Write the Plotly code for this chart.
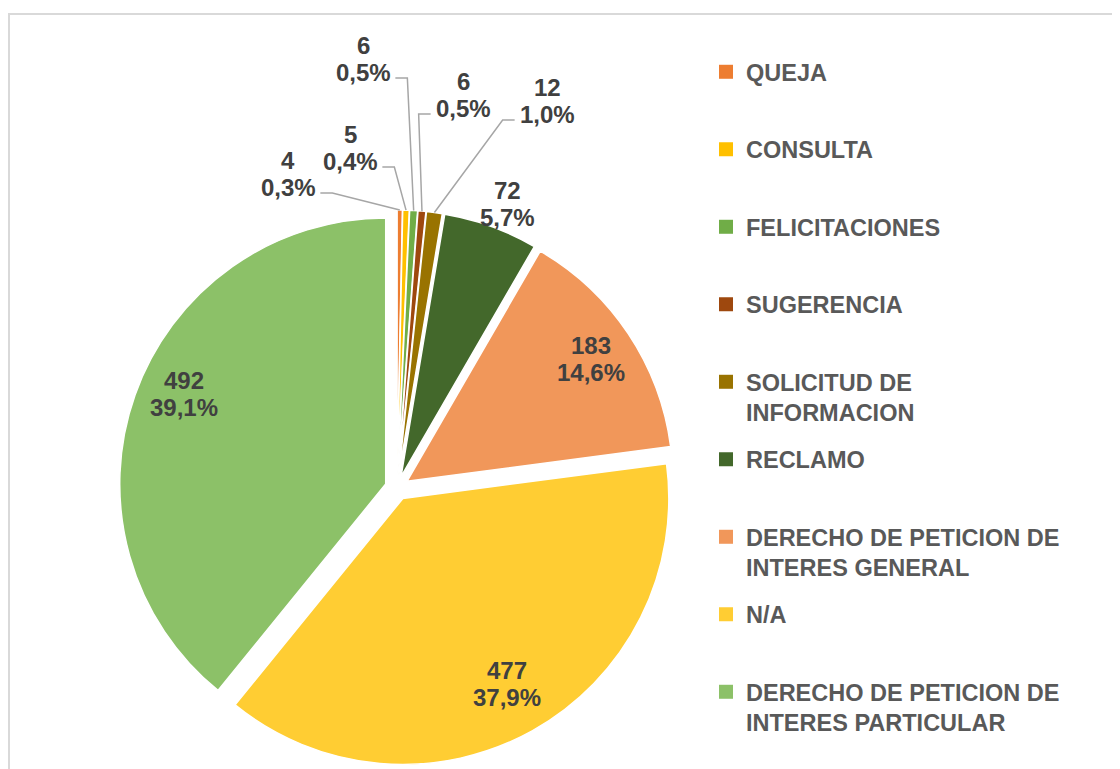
import math

import plotly.graph_objects as go

# ============================================================================ #
# Data

categories = [
    "QUEJA", "CONSULTA", "FELICITACIONES", "SUGERENCIA",
    "SOLICITUD DE INFORMACION", "RECLAMO",
    "DERECHO DE PETICION DE INTERES GENERAL", "N/A",
    "DERECHO DE PETICION DE INTERES PARTICULAR",
]
legend_names = [
    "QUEJA", "CONSULTA", "FELICITACIONES", "SUGERENCIA",
    "SOLICITUD DE<br>INFORMACION", "RECLAMO",
    "DERECHO DE PETICION DE<br>INTERES GENERAL", "N/A",
    "DERECHO DE PETICION DE<br>INTERES PARTICULAR",
]
counts = [4, 5, 6, 6, 12, 72, 183, 477, 492]
colors = [
    "#ED7D31", "#FFC000", "#70AD47", "#9E480E", "#997300",
    "#43682B", "#F1975A", "#FFCD33", "#8CC168",
]

# ============================================================================ #
# Layout constants (pixels, measured in the browser window)

W, H = 1120, 769
OFF = 8  # page body margin
CX, CY, R = 397, 488, 266  # pie centre and radius
PULL = 0.045
FONT = "Liberation Sans, Arial, sans-serif"
LABEL_SIZE = 24
LABEL_LINE = 27  # distance between the two lines of a data label
LABEL_COLOR = "#404040"

# small slices: label centre and which side the leader line leaves from
SMALL_LABELS = {
    0: ((288, 174), "right"),
    1: ((350, 148), "right"),
    2: ((363, 59), "right"),
    3: ((463, 95), "left"),
    4: ((547, 101), "left"),
}
# other slices: label radius as a fraction of R, angle nudge in degrees
LABEL_RADIUS = {5: (1.10, 1.5), 6: (0.83, 0.0), 7: (0.80, 0.0), 8: (0.83, 4.5)}

LEGEND_X = 706  # left edge of legend items
LEGEND_Y0 = 68  # first line of first entry
LEGEND_PITCH = 77.5


def to_paper(px, py):
    return (px - OFF) / W, 1 - (py - OFF) / H


def text_width(s, size):
    widths = {",": 0.278, "%": 0.889}
    return sum(widths.get(c, 0.556) for c in s) * size


total = sum(counts)
d = PULL * R

fig = go.Figure()

half = R * (1 + PULL)
x0p, y1p = to_paper(CX - half, CY - half)
x1p, y0p = to_paper(CX + half, CY + half)
fig.add_trace(
    go.Pie(
        labels=categories,
        values=counts,
        sort=False,
        direction="clockwise",
        rotation=0,
        pull=PULL,
        marker=dict(colors=colors, line=dict(color="white", width=1.5)),
        textinfo="none",
        showlegend=False,
        domain=dict(x=[x0p, x1p], y=[y0p, y1p]),
        hovertemplate="%{label}<br>%{value} (%{percent})<extra></extra>",
    )
)

# MARK: data labels
annotations = []
shapes = []
cum = 0
for i, v in enumerate(counts):
    mid = (cum + v / 2) / total * 2 * math.pi
    cum += v
    sx, sy = math.sin(mid), -math.cos(mid)
    ox, oy = CX + d * sx, CY + d * sy  # pulled-out slice centre
    pct = f"{100 * v / total:.1f}".replace(".", ",") + "%"

    if i in SMALL_LABELS:
        (lx, ly), side = SMALL_LABELS[i]
        ax, ay = ox + R * sx, oy + R * sy  # outer edge of the slice
        hw = text_width(pct, LABEL_SIZE) / 2
        y0 = ly + 19
        if side == "right":
            x0 = lx + hw + 5
            x1 = x0 + 12
        else:
            x0 = lx - hw - 5
            x1 = x0 - 12
        p = [to_paper(x0, y0), to_paper(x1, y0), to_paper(ax, ay)]
        shapes.append(
            dict(
                type="path",
                xref="paper",
                yref="paper",
                path="M {} {} L {} {} L {} {}".format(*p[0], *p[1], *p[2]),
                line=dict(color="#A6A6A6", width=1.5),
            )
        )
    else:
        frac, nudge = LABEL_RADIUS[i]
        a = mid + math.radians(nudge)
        rr = frac * R
        lx, ly = ox + rr * math.sin(a), oy - rr * math.cos(a)

    for line_text, dy in ((str(v), -LABEL_LINE / 2), (pct, LABEL_LINE / 2)):
        px, py = to_paper(lx, ly + dy)
        annotations.append(
            dict(
                x=px,
                y=py,
                xref="paper",
                yref="paper",
                text=f"<b>{line_text}</b>",
                showarrow=False,
                xanchor="center",
                yanchor="middle",
                font=dict(family=FONT, size=LABEL_SIZE, color=LABEL_COLOR),
            )
        )

# MARK: legend, one legend per entry so the entries can be placed freely
legend_layout = {}
for i, (name, col) in enumerate(zip(legend_names, colors)):
    key = "legend" if i == 0 else f"legend{i + 1}"
    fig.add_trace(
        go.Scatter(
            x=[None],
            y=[None],
            mode="markers",
            name=name,
            legend=key,
            marker=dict(symbol="square", size=14, color=col),
            hoverinfo="skip",
        )
    )
    lx, ly = to_paper(LEGEND_X, LEGEND_Y0 + i * LEGEND_PITCH - 18)
    legend_layout[key] = dict(
        x=lx,
        y=ly,
        xanchor="left",
        yanchor="top",
        valign="top",
        itemsizing="trace",
        font=dict(family=FONT, size=23.5, color="#595959", weight="bold"),
        bgcolor="rgba(0,0,0,0)",
    )

# chart frame
shapes.append(
    dict(
        type="rect",
        xref="paper",
        yref="paper",
        x0=1 / W,
        y0=-0.05,
        x1=1.05,
        y1=1 - 6 / H,
        line=dict(color="#D9D9D9", width=2),
    )
)

fig.update_layout(
    width=W,
    height=H,
    margin=dict(l=0, r=0, t=0, b=0),
    paper_bgcolor="white",
    plot_bgcolor="white",
    xaxis=dict(visible=False),
    yaxis=dict(visible=False),
    separators=",.",
    annotations=annotations,
    shapes=shapes,
    showlegend=True,
    **legend_layout,
)

fig.write_html("out.html")
